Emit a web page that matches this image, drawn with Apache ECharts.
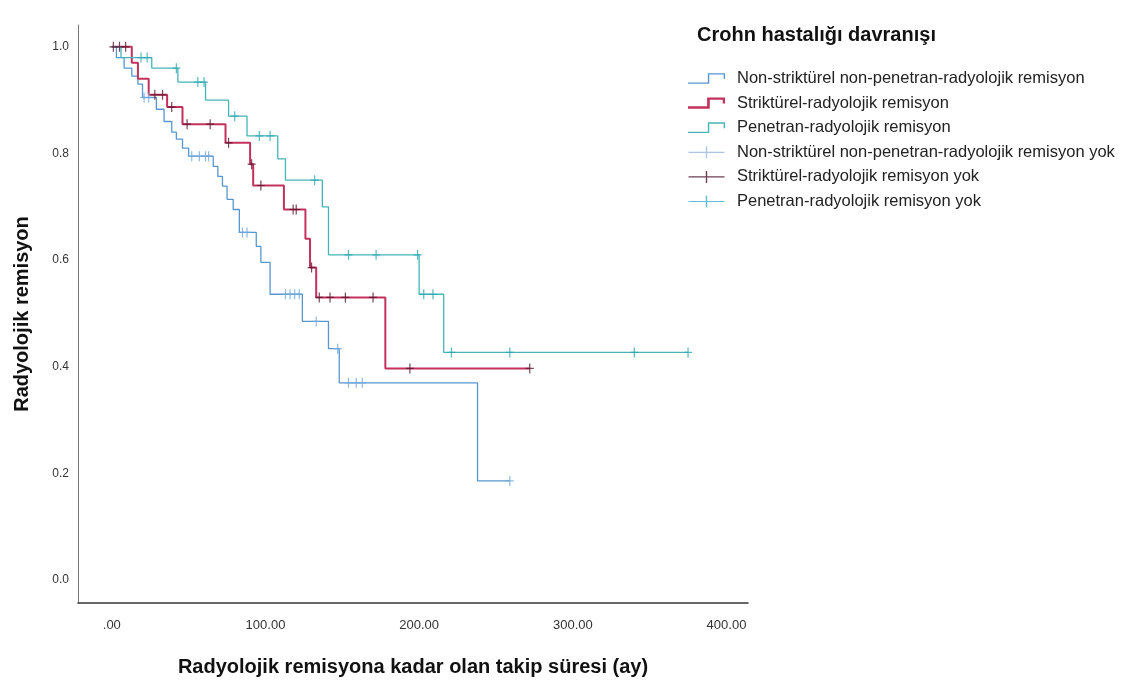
<!DOCTYPE html>
<html>
<head>
<meta charset="utf-8">
<script src="https://cdn.jsdelivr.net/npm/echarts@6/dist/echarts.min.js"></script>
<style>
  html, body { margin: 0; padding: 0; background: #ffffff; }
  #chart { width: 1134px; height: 686px; }
</style>
</head>
<body>
<div id="chart"></div>
<script>
// Kaplan–Meier estimates of radiological remission by Crohn's disease behaviour.
// Each step array holds [time (months), survival after the step]; censor arrays hold
// [time, survival level] of the censored observations ("yok").

const groupNames = [
  'Non-striktürel non-penetran-radyolojik remisyon',
  'Striktürel-radyolojik remisyon',
  'Penetran-radyolojik remisyon'
];
const censorNames = [
  'Non-striktürel non-penetran-radyolojik remisyon yok',
  'Striktürel-radyolojik remisyon yok',
  'Penetran-radyolojik remisyon yok'
];

const stepsNonStricturing = [
  [0, 1.0], [3, 0.98], [8, 0.96], [13, 0.945], [17, 0.93], [20, 0.905],
  [29, 0.883], [34, 0.86], [39, 0.84], [42, 0.827], [46, 0.81], [50, 0.795],
  [66, 0.776], [69, 0.757], [72, 0.739], [75, 0.714], [79, 0.695], [83, 0.652],
  [94, 0.626], [97, 0.596], [103, 0.536], [124, 0.485], [141, 0.434],
  [148, 0.37], [238, 0.186]
];
const censorNonStricturing = [
  [21, 0.905], [24, 0.905], [52, 0.795], [57, 0.795], [61, 0.795], [63, 0.795],
  [85, 0.652], [88, 0.652], [113, 0.536], [116, 0.536], [119, 0.536], [122, 0.536],
  [133, 0.485], [147, 0.434], [154, 0.37], [159, 0.37], [163, 0.37], [259, 0.186]
];

const stepsStricturing = [
  [0, 1.0], [13, 0.97], [17, 0.94], [24, 0.91], [36, 0.887], [46, 0.855],
  [74, 0.82], [90, 0.78], [92, 0.74], [112, 0.695], [126, 0.64], [129, 0.586],
  [133, 0.53], [178, 0.397]
];
const censorStricturing = [
  [1, 1.0], [5, 1.0], [9, 1.0], [28, 0.91], [33, 0.91], [39, 0.887],
  [49, 0.855], [64, 0.855], [76, 0.82], [91, 0.78], [97, 0.74], [118, 0.695],
  [120, 0.695], [130, 0.586], [135, 0.53], [142, 0.53], [152, 0.53], [170, 0.53],
  [194, 0.397], [272, 0.397]
];

const stepsPenetrating = [
  [0, 1.0], [6, 0.98], [26, 0.96], [43, 0.934], [61, 0.90], [76, 0.87],
  [88, 0.833], [108, 0.79], [113, 0.75], [137, 0.70], [141, 0.61],
  [200, 0.536], [216, 0.427]
];
const censorPenetrating = [
  [19, 0.98], [23, 0.98], [42, 0.96], [56, 0.934], [60, 0.934], [80, 0.87],
  [96, 0.833], [103, 0.833], [132, 0.75], [154, 0.61], [172, 0.61], [199, 0.61],
  [203, 0.536], [209, 0.536], [221, 0.427], [259, 0.427], [340, 0.427], [375, 0.427]
];

const xTickValues = [0, 100, 200, 300, 400];
const yTickValues = [0, 0.2, 0.4, 0.6, 0.8, 1.0];

const lineColors = ['#5796d0', '#c3325c', '#45b5b8'];
const censorColors = ['#6fa9dc', '#5a1630', '#2ba6b4'];
const lineWidths = [1.3, 2, 1.3];

const FONT = '"Liberation Sans", Arial, sans-serif';

// The KM line runs on to the last censored time at the final level.
function kmLine(steps, censors) {
  const last = steps[steps.length - 1];
  const tEnd = Math.max(last[0], ...censors.map(c => c[0]));
  return steps.concat([[tEnd, last[1]]]);
}

const stepsAll = [stepsNonStricturing, stepsStricturing, stepsPenetrating];
const censorsAll = [censorNonStricturing, censorStricturing, censorPenetrating];

const plusPath = 'path://M-4,-0.6 L-0.6,-0.6 L-0.6,-5 L0.6,-5 L0.6,-0.6 L4,-0.6 L4,0.6 L0.6,0.6 L0.6,5 L-0.6,5 L-0.6,0.6 L-4,0.6 Z';
const stepIconThin = 'path://M0,9.3 L19.3,9.3 L19.3,0.2 L36,0.2 L36,6 L34.7,6 L34.7,1.5 L20.7,1.5 L20.7,10.6 L0,10.6 Z';
const stepIconThick = 'path://M0,8.6 L18.6,8.6 L18.6,0 L36,0 L36,6 L33.8,6 L33.8,2.2 L21.2,2.2 L21.2,11 L0,11 Z';
const plusIcon = 'path://M0,5.4 L17.3,5.4 L17.3,0 L18.7,0 L18.7,5.4 L36,5.4 L36,6.6 L18.7,6.6 L18.7,12 L17.3,12 L17.3,6.6 L0,6.6 Z';
const legendCensorColors = ['#9bb6e0', '#4a1028', '#35b0c6'];

const series = [];
groupNames.forEach((name, i) => {
  series.push({
    name: name,
    type: 'line',
    step: 'end',
    showSymbol: false,
    silent: true,
    data: kmLine(stepsAll[i], censorsAll[i]),
    itemStyle: { color: lineColors[i] },
    lineStyle: { color: lineColors[i], width: lineWidths[i] },
    z: 2
  });
});
censorNames.forEach((name, i) => {
  series.push({
    name: name,
    type: 'scatter',
    symbol: plusPath,
    symbolSize: [8, 10],
    silent: true,
    data: censorsAll[i],
    itemStyle: { color: censorColors[i] },
    z: 3
  });
});

const legendData = [
  { name: groupNames[0], icon: stepIconThin, itemStyle: { color: lineColors[0] } },
  { name: groupNames[1], icon: stepIconThick, itemStyle: { color: lineColors[1] } },
  { name: groupNames[2], icon: stepIconThin, itemStyle: { color: lineColors[2] } },
  { name: censorNames[0], icon: plusIcon, itemStyle: { color: legendCensorColors[0] } },
  { name: censorNames[1], icon: plusIcon, itemStyle: { color: legendCensorColors[1] } },
  { name: censorNames[2], icon: plusIcon, itemStyle: { color: legendCensorColors[2] } }
];

const chart = echarts.init(document.getElementById('chart'), null, { renderer: 'canvas' });
chart.setOption({
  backgroundColor: '#ffffff',
  animation: false,
  title: {
    text: 'Crohn hastalığı davranışı',
    left: 697,
    top: 25,
    padding: 0,
    textStyle: { fontFamily: FONT, fontSize: 20, fontWeight: 'bold', color: '#111' }
  },
  legend: {
    orient: 'vertical',
    left: 688,
    top: 70,
    padding: 0,
    itemWidth: 37,
    itemHeight: 12,
    itemGap: 7.6,
    selectedMode: false,
    data: legendData,
    textStyle: { fontFamily: FONT, fontSize: 16.5, color: '#222', padding: [0, 0, 0, 7], lineHeight: 16 }
  },
  grid: { left: 78, right: 386, top: 25, bottom: 83, containLabel: false },
  xAxis: {
    type: 'value',
    min: -22,
    max: 414,
    name: 'Radyolojik remisyona kadar olan takip süresi (ay)',
    nameLocation: 'middle',
    nameGap: 54,
    nameTextStyle: { fontFamily: FONT, fontSize: 20, fontWeight: 'bold', color: '#111' },
    axisLine: { show: true, onZero: false, lineStyle: { color: '#333', width: 1.5 } },
    axisTick: { show: false },
    splitLine: { show: false },
    axisLabel: {
      customValues: xTickValues,
      margin: 16,
      fontFamily: FONT,
      fontSize: 13,
      color: '#333',
      formatter: v => (v === 0 ? '.00' : v.toFixed(2))
    }
  },
  yAxis: {
    type: 'value',
    min: -0.043,
    max: 1.041,
    name: 'Radyolojik remisyon',
    nameLocation: 'middle',
    nameGap: 46,
    nameRotate: 90,
    nameTextStyle: { fontFamily: FONT, fontSize: 20, fontWeight: 'bold', color: '#111' },
    axisLine: { show: true, onZero: false, lineStyle: { color: '#777', width: 1 } },
    axisTick: { show: false },
    splitLine: { show: false },
    axisLabel: {
      customValues: yTickValues,
      margin: 9,
      fontFamily: FONT,
      fontSize: 12,
      color: '#333',
      formatter: v => v.toFixed(1)
    }
  },
  series: series
});
</script>
</body>
</html>
